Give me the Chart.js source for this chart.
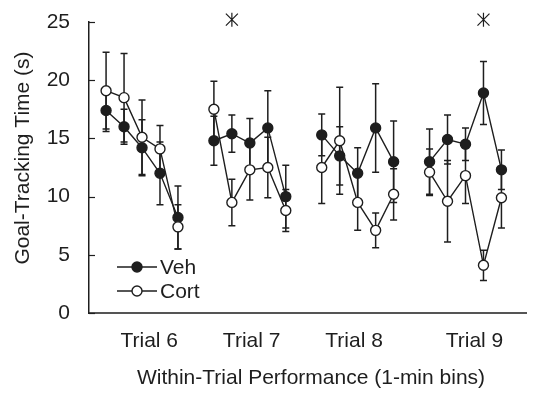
<!DOCTYPE html>
<html>
<head>
<meta charset="utf-8">
<script src="https://cdn.jsdelivr.net/npm/chart.js@4.4.0/dist/chart.umd.min.js"></script>
<style>
  html, body { margin: 0; padding: 0; background: #fff; }
  #wrap { width: 533px; height: 393px; }
</style>
</head>
<body>
<div id="wrap"><canvas id="chart" width="533" height="393"></canvas></div>
<script>
// Four trials, five 1-min bins each; bins of consecutive trials are 1 empty slot apart
const trials = ['Trial 6', 'Trial 7', 'Trial 8', 'Trial 9'];
const binX = [0, 1, 2, 3, 4, 6, 7, 8, 9, 10, 12, 13, 14, 15, 16, 18, 19, 20, 21, 22];
const trialTickX = [2.4, 8.1, 13.8, 20.5];

const vehMean = [17.4, 16.0, 14.2, 12.0, 8.2,  14.8, 15.4, 14.6, 15.9, 10.0,  15.3, 13.5, 12.0, 15.9, 13.0,  13.0, 14.9, 14.5, 18.9, 12.3];
const vehErr  = [1.8, 1.5, 2.4, 2.7, 2.7,  2.1, 1.6, 2.1, 3.2, 2.7,  1.8, 2.5, 2.2, 3.8, 3.5,  2.8, 2.1, 1.4, 2.7, 1.7];
const cortMean = [19.1, 18.5, 15.1, 14.1, 7.4,  17.5, 9.5, 12.3, 12.5, 8.8,  12.5, 14.8, 9.5, 7.1, 10.2,  12.1, 9.6, 11.8, 4.1, 9.9];
const cortErr  = [3.3, 3.8, 3.2, 2.0, 1.9,  2.4, 2.0, 2.6, 2.6, 1.8,  3.1, 4.6, 2.4, 1.5, 2.2,  2.0, 3.5, 2.4, 1.3, 2.6];

// significance stars (bin position, height)
const sigBins = [7, 21];
const sigY = 25.2;

const yTicks = [0, 5, 10, 15, 20, 25];

const FONT = '"Liberation Sans", Arial, sans-serif';
const INK = '#1e1e1e';

// build points, with a null between trials so lines break
function toPoints(means) {
  const pts = [];
  binX.forEach((x, i) => {
    if (i > 0 && x - binX[i - 1] > 1) pts.push({ x: (x + binX[i - 1]) / 2, y: null });
    pts.push({ x: x, y: means[i] });
  });
  return pts;
}

const errorBars = {
  id: 'errorBars',
  beforeDatasetsDraw(chart) {
    const { ctx, scales: { x, y } } = chart;
    ctx.save();
    ctx.strokeStyle = INK;
    ctx.lineWidth = 1.5;
    [[vehMean, vehErr], [cortMean, cortErr]].forEach(([m, e]) => {
      m.forEach((v, i) => {
        const px = x.getPixelForValue(binX[i]);
        const top = y.getPixelForValue(v + e[i]);
        const bot = y.getPixelForValue(v - e[i]);
        ctx.beginPath();
        ctx.moveTo(px, top); ctx.lineTo(px, bot);
        ctx.moveTo(px - 3.5, top); ctx.lineTo(px + 3.5, top);
        ctx.moveTo(px - 3.5, bot); ctx.lineTo(px + 3.5, bot);
        ctx.stroke();
      });
    });
    ctx.restore();
  }
};

const extras = {
  id: 'extras',
  afterDraw(chart) {
    const { ctx, scales: { x, y }, chartArea } = chart;
    ctx.save();
    // inward y ticks
    ctx.strokeStyle = INK;
    ctx.lineWidth = 1.2;
    yTicks.forEach(t => {
      const py = Math.round(y.getPixelForValue(t)) + 0.5;
      ctx.beginPath();
      ctx.moveTo(chartArea.left, py);
      ctx.lineTo(chartArea.left + 6, py);
      ctx.stroke();
    });

    // asterisks
    ctx.lineWidth = 1.2;
    sigBins.forEach(b => {
      const cx = x.getPixelForValue(b);
      const cy = y.getPixelForValue(sigY);
      ctx.beginPath();
      ctx.moveTo(cx, cy - 7); ctx.lineTo(cx, cy + 7);
      ctx.moveTo(cx - 6, cy - 6); ctx.lineTo(cx + 6, cy + 6);
      ctx.moveTo(cx + 6, cy - 6); ctx.lineTo(cx - 6, cy + 6);
      ctx.stroke();
    });

    // axis titles
    ctx.fillStyle = INK;
    ctx.font = '21px ' + FONT;
    ctx.textAlign = 'center';
    ctx.textBaseline = 'middle';
    ctx.fillText('Within-Trial Performance (1-min bins)', 311, 378);
    ctx.translate(23, 158);
    ctx.rotate(-Math.PI / 2);
    ctx.fillText('Goal-Tracking Time (s)', 0, 0);
    ctx.restore();

    // legend
    ctx.save();
    chart.data.datasets.slice().reverse().forEach((ds, i) => {
      const ly = 267 + i * 24;
      ctx.strokeStyle = INK;
      ctx.lineWidth = 1.4;
      ctx.beginPath();
      ctx.moveTo(117, ly); ctx.lineTo(157, ly);
      ctx.stroke();
      ctx.beginPath();
      ctx.arc(137, ly, 5, 0, Math.PI * 2);
      ctx.fillStyle = ds.pointBackgroundColor;
      ctx.fill();
      ctx.stroke();
      ctx.fillStyle = INK;
      ctx.font = '21px ' + FONT;
      ctx.textAlign = 'left';
      ctx.textBaseline = 'middle';
      ctx.fillText(ds.label, 160, ly + 1);
    });
    ctx.restore();
  }
};

new Chart(document.getElementById('chart'), {
  type: 'line',
  data: {
    datasets: [
      {
        label: 'Cort',
        data: toPoints(cortMean),
        borderColor: INK,
        borderWidth: 1.4,
        pointRadius: 5,
        pointBorderWidth: 1.4,
        pointBorderColor: INK,
        pointBackgroundColor: '#ffffff',
        spanGaps: false,
        order: 1
      },
      {
        label: 'Veh',
        data: toPoints(vehMean),
        borderColor: INK,
        borderWidth: 1.4,
        pointRadius: 5,
        pointBorderWidth: 1.4,
        pointBorderColor: INK,
        pointBackgroundColor: INK,
        spanGaps: false,
        order: 2
      }
    ]
  },
  options: {
    responsive: false,
    animation: false,
    layout: { padding: { top: 22, right: 0, left: 0, bottom: 0 } },
    plugins: { legend: { display: false }, tooltip: { enabled: false } },
    scales: {
      x: {
        type: 'linear',
        min: -0.95,
        max: 23.4,
        afterFit(scale) {
          scale.height = 80;
          scale.paddingLeft = 0;
          scale.paddingRight = 0;
        },
        afterBuildTicks(scale) { scale.ticks = trialTickX.map(v => ({ value: v })); },
        grid: { display: false, drawTicks: false },
        border: { display: true, color: '#555', width: 2 },
        ticks: {
          autoSkip: false,
          maxRotation: 0,
          padding: 16,
          color: INK,
          font: { family: FONT, size: 21 },
          callback: (v, i) => trials[i]
        }
      },
      y: {
        min: 0,
        max: 25,
        afterFit(scale) {
          scale.width = 89;
          scale.paddingTop = 0;
          scale.paddingBottom = 0;
        },
        afterBuildTicks(scale) { scale.ticks = yTicks.map(v => ({ value: v })); },
        grid: { display: false, drawTicks: false },
        border: { display: true, color: INK, width: 1.5 },
        ticks: {
          padding: 19,
          color: INK,
          font: { family: FONT, size: 21 }
        }
      }
    }
  },
  plugins: [errorBars, extras]
});
</script>
</body>
</html>
